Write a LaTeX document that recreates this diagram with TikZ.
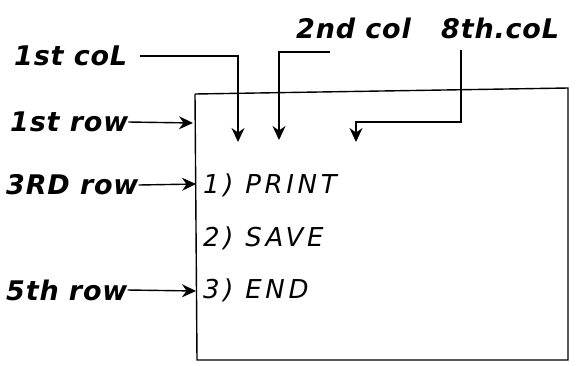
\documentclass[tikz,border=0pt]{standalone}
\usepackage{fontspec}
\setmainfont{DejaVu Sans}
\newfontfamily\widefont{DejaVu Sans}[LetterSpace=14]
\newfontfamily\midfont{DejaVu Sans}[LetterSpace=3]
\usetikzlibrary{arrows.meta}
\begin{document}
\begin{tikzpicture}[x=1pt,y=-1pt,
  lbl/.style={font=\fontsize{27}{30}\midfont\bfseries\itshape, inner sep=0pt, anchor=west},
  cnt/.style={font=\fontsize{26}{30}\widefont\itshape, inner sep=0pt, anchor=west},
  ln/.style={line width=1.4pt},
  arr/.style={ln,-{Stealth[length=14pt,width=13pt]}}]
\useasboundingbox (0,0) rectangle (578,365);
% box
\coordinate (tl) at (195,94);
\coordinate (tr) at (568,88);
\coordinate (br) at (568,360);
\coordinate (bl) at (197,360);
\draw[ln] (tl) -- (tr) -- (br) -- (bl) -- (tl);
% column labels
\node[lbl] (c1) at (14,56) {1st coL};
\node[lbl] (c2) at (296,28) {2nd col};
\node[lbl] (c8) at (441,28) {8th.coL};
\coordinate (c1s) at (140,56);
\coordinate (c1a) at (238,56);
\coordinate (c1b) at (238,142);
\coordinate (c2s) at (330,52);
\coordinate (c2a) at (279,52);
\coordinate (c2b) at (279,140);
\coordinate (c8a) at (461,50);
\coordinate (c8b) at (461,122);
\coordinate (c8c) at (356,122);
\coordinate (c8d) at (356,142);
\draw[arr] (c1s) -- (c1a) -- (c1b);
\draw[arr] (c2s) -- (c2a) -- (c2b);
\draw[arr] (c8a) -- (c8b) -- (c8c) -- (c8d);
% rows
\node[lbl] (r1) at (10,122) {1st row};
\node[lbl] (r3) at (6,185) {3RD row};
\node[lbl] (r5) at (6,290) {5th row};
\coordinate (r1e) at (193,123);
\coordinate (r3e) at (196,184);
\coordinate (r5e) at (196,291);
\draw[arr] (r1.east) -- (r1e);
\draw[arr] (r3.east) -- (r3e);
\draw[arr] (r5.east) -- (r5e);
% contents
\node[cnt] (p) at (203,185) {1) PRINT};
\node[cnt] (s) at (203,238) {2) SAVE};
\node[cnt] (e) at (203,290) {3) END};
\end{tikzpicture}
\end{document}
